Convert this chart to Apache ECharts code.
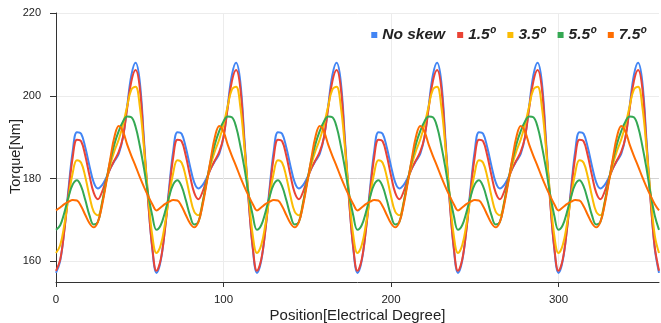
<!DOCTYPE html>
<html><head><meta charset="utf-8">
<script src="https://cdn.jsdelivr.net/npm/echarts@6/dist/echarts.min.js"></script>
<style>html,body{margin:0;padding:0;background:#fff}#c{width:661px;height:323px}</style>
</head><body><div id="c"></div>
<script>
const positions = [
0,2.5,5,7.5,10,12.5,15,17.5,20,22.5,25,27.5,30,32.5,35,37.5,40,42.5,45,47.5,50,52.5,55,57.5,
60,62.5,65,67.5,70,72.5,75,77.5,80,82.5,85,87.5,90,92.5,95,97.5,100,102.5,105,107.5,110,112.5,115,117.5,
120,122.5,125,127.5,130,132.5,135,137.5,140,142.5,145,147.5,150,152.5,155,157.5,160,162.5,165,167.5,170,172.5,175,177.5,
180,182.5,185,187.5,190,192.5,195,197.5,200,202.5,205,207.5,210,212.5,215,217.5,220,222.5,225,227.5,230,232.5,235,237.5,
240,242.5,245,247.5,250,252.5,255,257.5,260,262.5,265,267.5,270,272.5,275,277.5,280,282.5,285,287.5,290,292.5,295,297.5,
300,302.5,305,307.5,310,312.5,315,317.5,320,322.5,325,327.5,330,332.5,335,337.5,340,342.5,345,347.5,350,352.5,355,357.5,
360];

const seriesNames = ['No skew', '1.5º', '3.5º', '5.5º', '7.5º'];

const noSkew = [
157.2,160.1,167.7,177.6,186.7,191.2,190.8,187.5,183.0,179.1,177.6,178.4,180.2,182.5,184.3,186.0,190.0,197.5,205.0,208.0,203.5,189.5,175.0,163.0,
157.2,160.1,167.7,177.6,186.7,191.2,190.8,187.5,183.0,179.1,177.6,178.4,180.2,182.5,184.3,186.0,190.0,197.5,205.0,208.0,203.5,189.5,175.0,163.0,
157.2,160.1,167.7,177.6,186.7,191.2,190.8,187.5,183.0,179.1,177.6,178.4,180.2,182.5,184.3,186.0,190.0,197.5,205.0,208.0,203.5,189.5,175.0,163.0,
157.2,160.1,167.7,177.6,186.7,191.2,190.8,187.5,183.0,179.1,177.6,178.4,180.2,182.5,184.3,186.0,190.0,197.5,205.0,208.0,203.5,189.5,175.0,163.0,
157.2,160.1,167.7,177.6,186.7,191.2,190.8,187.5,183.0,179.1,177.6,178.4,180.2,182.5,184.3,186.0,190.0,197.5,205.0,208.0,203.5,189.5,175.0,163.0,
157.2,160.1,167.7,177.6,186.7,191.2,190.8,187.5,183.0,179.1,177.6,178.4,180.2,182.5,184.3,186.0,190.0,197.5,205.0,208.0,203.5,189.5,175.0,163.0,
157.2];

const skew15 = [
157.7,160.4,167.5,176.8,185.2,189.4,189.0,185.5,180.7,176.6,175.0,176.8,179.8,182.5,184.5,186.5,190.0,197.0,203.5,206.2,202.0,188.5,174.5,163.3,
157.7,160.4,167.5,176.8,185.2,189.4,189.0,185.5,180.7,176.6,175.0,176.8,179.8,182.5,184.5,186.5,190.0,197.0,203.5,206.2,202.0,188.5,174.5,163.3,
157.7,160.4,167.5,176.8,185.2,189.4,189.0,185.5,180.7,176.6,175.0,176.8,179.8,182.5,184.5,186.5,190.0,197.0,203.5,206.2,202.0,188.5,174.5,163.3,
157.7,160.4,167.5,176.8,185.2,189.4,189.0,185.5,180.7,176.6,175.0,176.8,179.8,182.5,184.5,186.5,190.0,197.0,203.5,206.2,202.0,188.5,174.5,163.3,
157.7,160.4,167.5,176.8,185.2,189.4,189.0,185.5,180.7,176.6,175.0,176.8,179.8,182.5,184.5,186.5,190.0,197.0,203.5,206.2,202.0,188.5,174.5,163.3,
157.7,160.4,167.5,176.8,185.2,189.4,189.0,185.5,180.7,176.6,175.0,176.8,179.8,182.5,184.5,186.5,190.0,197.0,203.5,206.2,202.0,188.5,174.5,163.3,
157.7];

const skew35 = [
162.0,163.9,168.9,175.5,181.4,184.4,183.8,180.4,175.7,172.0,171.1,174.2,179.3,183.5,186.8,189.5,193.0,197.5,201.5,202.2,197.5,187.5,176.0,166.2,
162.0,163.9,168.9,175.5,181.4,184.4,183.8,180.4,175.7,172.0,171.1,174.2,179.3,183.5,186.8,189.5,193.0,197.5,201.5,202.2,197.5,187.5,176.0,166.2,
162.0,163.9,168.9,175.5,181.4,184.4,183.8,180.4,175.7,172.0,171.1,174.2,179.3,183.5,186.8,189.5,193.0,197.5,201.5,202.2,197.5,187.5,176.0,166.2,
162.0,163.9,168.9,175.5,181.4,184.4,183.8,180.4,175.7,172.0,171.1,174.2,179.3,183.5,186.8,189.5,193.0,197.5,201.5,202.2,197.5,187.5,176.0,166.2,
162.0,163.9,168.9,175.5,181.4,184.4,183.8,180.4,175.7,172.0,171.1,174.2,179.3,183.5,186.8,189.5,193.0,197.5,201.5,202.2,197.5,187.5,176.0,166.2,
162.0,163.9,168.9,175.5,181.4,184.4,183.8,180.4,175.7,172.0,171.1,174.2,179.3,183.5,186.8,189.5,193.0,197.5,201.5,202.2,197.5,187.5,176.0,166.2,
162.0];

const skew55 = [
167.6,168.7,171.8,175.6,178.6,179.6,178.1,174.8,171.1,168.9,169.5,174.0,179.5,184.5,188.5,191.5,193.8,195.0,194.8,192.5,188.0,182.5,176.2,171.0,
167.6,168.7,171.8,175.6,178.6,179.6,178.1,174.8,171.1,168.9,169.5,174.0,179.5,184.5,188.5,191.5,193.8,195.0,194.8,192.5,188.0,182.5,176.2,171.0,
167.6,168.7,171.8,175.6,178.6,179.6,178.1,174.8,171.1,168.9,169.5,174.0,179.5,184.5,188.5,191.5,193.8,195.0,194.8,192.5,188.0,182.5,176.2,171.0,
167.6,168.7,171.8,175.6,178.6,179.6,178.1,174.8,171.1,168.9,169.5,174.0,179.5,184.5,188.5,191.5,193.8,195.0,194.8,192.5,188.0,182.5,176.2,171.0,
167.6,168.7,171.8,175.6,178.6,179.6,178.1,174.8,171.1,168.9,169.5,174.0,179.5,184.5,188.5,191.5,193.8,195.0,194.8,192.5,188.0,182.5,176.2,171.0,
167.6,168.7,171.8,175.6,178.6,179.6,178.1,174.8,171.1,168.9,169.5,174.0,179.5,184.5,188.5,191.5,193.8,195.0,194.8,192.5,188.0,182.5,176.2,171.0,
167.6];

const skew75 = [
172.3,173.0,173.8,174.4,174.8,174.7,173.3,171.2,169.2,168.2,169.5,173.5,179.0,185.0,190.3,192.7,191.3,188.2,185.5,183.0,180.4,178.0,175.8,173.8,
172.3,173.0,173.8,174.4,174.8,174.7,173.3,171.2,169.2,168.2,169.5,173.5,179.0,185.0,190.3,192.7,191.3,188.2,185.5,183.0,180.4,178.0,175.8,173.8,
172.3,173.0,173.8,174.4,174.8,174.7,173.3,171.2,169.2,168.2,169.5,173.5,179.0,185.0,190.3,192.7,191.3,188.2,185.5,183.0,180.4,178.0,175.8,173.8,
172.3,173.0,173.8,174.4,174.8,174.7,173.3,171.2,169.2,168.2,169.5,173.5,179.0,185.0,190.3,192.7,191.3,188.2,185.5,183.0,180.4,178.0,175.8,173.8,
172.3,173.0,173.8,174.4,174.8,174.7,173.3,171.2,169.2,168.2,169.5,173.5,179.0,185.0,190.3,192.7,191.3,188.2,185.5,183.0,180.4,178.0,175.8,173.8,
172.3,173.0,173.8,174.4,174.8,174.7,173.3,171.2,169.2,168.2,169.5,173.5,179.0,185.0,190.3,192.7,191.3,188.2,185.5,183.0,180.4,178.0,175.8,173.8,
172.3];

const yTickLabels = [160, 180, 200, 220];
const xTickLabels = [0, 100, 200, 300];
const colors = ['#4285F4', '#EA4335', '#FBBC04', '#34A853', '#FF6D01'];

const allSeries = [noSkew, skew15, skew35, skew55, skew75];
const font = 'Liberation Sans, Arial, sans-serif';

const chart = echarts.init(document.getElementById('c'), null, {renderer: 'canvas'});
chart.setOption({
  animation: false,
  color: colors,
  textStyle: {fontFamily: font},
  grid: {left: 56, right: 2, top: 13, bottom: 41, containLabel: false, outerBoundsMode: 'none'},
  legend: {
    top: 22, right: 10, icon: 'rect', itemWidth: 6, itemHeight: 6, itemGap: 12,
    data: seriesNames,
    textStyle: {fontSize: 15.5, fontWeight: 'bold', fontStyle: 'italic', color: '#222', fontFamily: font}
  },
  xAxis: {
    type: 'value', min: 0, max: 360, interval: 25,
    name: 'Position[Electrical Degree]', nameLocation: 'middle', nameGap: 26, nameMoveOverlap: false,
    nameTextStyle: {fontSize: 15, color: '#222', fontFamily: font},
    axisLine: {show: true, lineStyle: {color: '#333', width: 1}},
    axisTick: {show: true, length: 5, customValues: xTickLabels, lineStyle: {color: '#333'}},
    axisLabel: {customValues: xTickLabels, fontSize: 11.5, color: '#222', margin: 12, fontFamily: font},
    splitLine: {show: true, lineStyle: {color: ['#d4d4d4', '#ececec', '#ececec', '#ececec'], width: 1}}
  },
  yAxis: {
    type: 'value', min: 155, max: 220, interval: 5,
    name: 'Torque[Nm]', nameLocation: 'middle', nameGap: 33, nameMoveOverlap: false,
    nameTextStyle: {fontSize: 14.5, color: '#222', fontFamily: font, padding: [0, 18, 0, 0]},
    axisLine: {show: true, lineStyle: {color: '#333', width: 1}},
    axisTick: {show: true, length: 6, customValues: yTickLabels, lineStyle: {color: '#333'}},
    axisLabel: {customValues: yTickLabels, fontSize: 11, color: '#222', margin: 15, fontFamily: font},
    splitLine: {show: true, lineStyle: {color: ['#ececec', '#d4d4d4', '#ececec', '#ececec'], width: 1}}
  },
  series: seriesNames.map((n, k) => ({
    name: n, type: 'line', showSymbol: false, smooth: 0.4,
    lineStyle: {width: 2},
    data: positions.map((x, i) => [x, allSeries[k][i]])
  }))
});
</script></body></html>
